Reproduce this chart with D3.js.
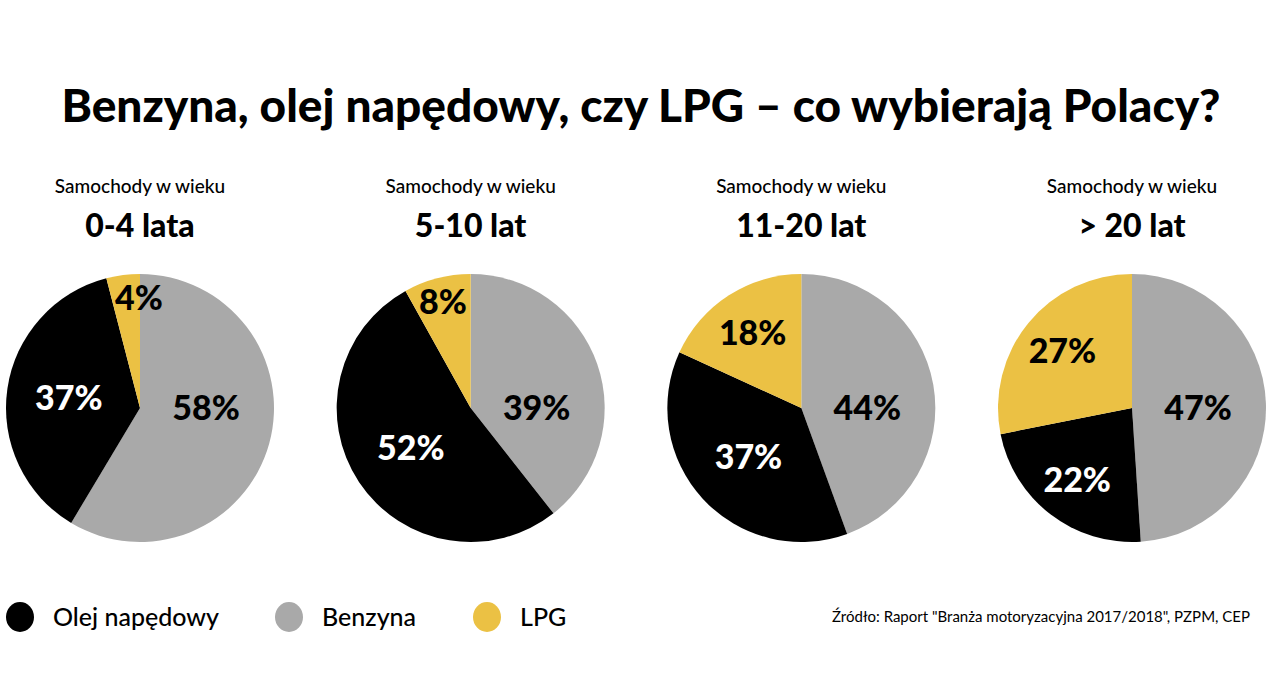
<!DOCTYPE html>
<html><head><meta charset="utf-8">
<script src="https://cdn.jsdelivr.net/npm/d3@7"></script>
<style>
body{margin:0;background:#fff;}
svg{display:block;font-family:Lato,"Noto Sans",sans-serif;}
</style></head>
<body><svg id="c" width="1280" height="674"></svg>
<script>
const title = "Benzyna, olej napędowy, czy LPG – co wybierają Polacy?";
const subtitle = "Samochody w wieku";
const ageGroups = ["0-4 lata", "5-10 lat", "11-20 lat", "> 20 lat"];
const fuels = ["Benzyna", "Olej napędowy", "LPG"];
const benzyna = [58, 39, 44, 47];
const olej = [37, 52, 37, 22];
const lpg = [4, 8, 18, 27];
const legendOrder = ["Olej napędowy", "Benzyna", "LPG"];
const source = "Źródło: Raport \"Branża motoryzacyjna 2017/2018\", PZPM, CEP";

const colors = d3.scaleOrdinal().domain(fuels).range(["#a9a9a9", "#000000", "#ebc144"]);
const textColors = d3.scaleOrdinal().domain(fuels).range(["#000", "#fff", "#000"]);

const svg = d3.select("#c");
const W = 1280;
svg.append("text").attr("x", W/2 + 1).attr("y", 122).attr("text-anchor","middle")
  .attr("font-size", 46).attr("font-weight", 900).attr("fill","#000").text(title);

const x = d3.scalePoint().domain(ageGroups).range([140, 1132]);
const R = 134, cy = 408;
const pie = d3.pie().sort(null).value(d => d.v);
const arc = d3.arc().innerRadius(0).outerRadius(R);

ageGroups.forEach((g, i) => {
  const data = [
    {k: "Benzyna", v: benzyna[i]},
    {k: "Olej napędowy", v: olej[i]},
    {k: "LPG", v: lpg[i]}
  ];
  const gg = svg.append("g").attr("transform", `translate(${x(g)},${cy})`);
  svg.append("text").attr("x", x(g)).attr("y", 193).attr("text-anchor","middle")
    .attr("font-size", 19).attr("font-weight", 500).text(subtitle);
  svg.append("text").attr("x", x(g)).attr("y", 237).attr("text-anchor","middle")
    .attr("font-size", 32).attr("font-weight", 900).text(g);
  const arcs = pie(data);
  gg.selectAll("path").data(arcs).enter().append("path")
    .attr("d", arc).attr("fill", d => colors(d.data.k));
  gg.selectAll("text").data(arcs).enter().append("text")
    .attr("transform", d => {
      const frac = (d.endAngle - d.startAngle) / (2*Math.PI);
      const spans3 = d.startAngle <= Math.PI/2 && d.endAngle >= Math.PI/2;
      let a = spans3 ? Math.PI/2 : (d.startAngle + d.endAngle)/2;
      if (frac < 0.05) a = d.endAngle - 0.01;
      const lr = spans3 ? 66 : (frac < 0.1 ? 110 : (frac < 0.3 ? 90 : 72));
      return `translate(${lr*Math.sin(a)},${-lr*Math.cos(a)})`;
    })
    .attr("text-anchor","middle").attr("dy","0.36em")
    .attr("font-size", 34).attr("font-weight", 900)
    .attr("fill", d => textColors(d.data.k))
    .text(d => d.data.v + "%");
});

const lx = d3.scaleOrdinal().domain(legendOrder).range([20, 289, 487]);
const lg = svg.append("g");
legendOrder.forEach(k => {
  lg.append("ellipse").attr("cx", lx(k)).attr("cy", 617).attr("rx", 14).attr("ry", 15)
    .attr("fill", colors(k));
  lg.append("text").attr("x", lx(k) + 33).attr("y", 617).attr("dy","0.35em")
    .attr("font-size", 25).attr("font-weight", 500).text(k);
});
svg.append("text").attr("x", 1250).attr("y", 617).attr("dy","0.35em").attr("text-anchor","end")
  .attr("font-size", 15).attr("font-weight", 400).text(source);
</script></body></html>
